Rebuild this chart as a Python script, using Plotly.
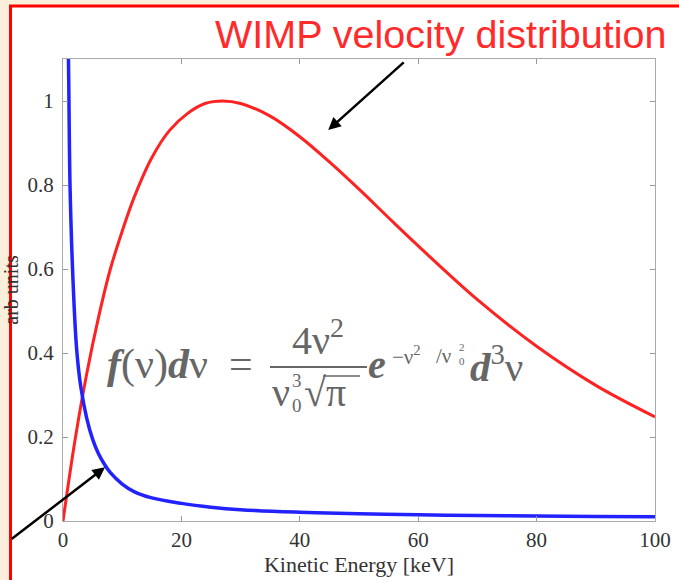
import plotly.graph_objects as go

# ---- data ----
energy_red = [0, 2, 4, 6, 8, 10, 12, 15, 18, 21, 24, 27, 30, 35, 40, 45, 50, 55, 60, 70, 80, 90, 100]
wimp_vel = [0, 0.19, 0.35, 0.485, 0.60, 0.69, 0.77, 0.865, 0.93, 0.97, 0.994, 1.0, 0.994, 0.964, 0.915,
            0.855, 0.79, 0.722, 0.655, 0.527, 0.416, 0.323, 0.248]

energy_blue = [0.5, 0.8, 1.2, 1.7, 2.3, 3.0, 4.0, 5.0, 6.0, 7.0, 8.0, 10, 12, 15, 20, 25, 30, 40,
               50, 60, 70, 80, 90, 100]
other_curve = [1.25, 1.18, 0.79, 0.57, 0.41, 0.32, 0.245, 0.195, 0.16, 0.135, 0.115, 0.088, 0.07,
               0.055, 0.042, 0.033, 0.027, 0.021, 0.017, 0.015, 0.013, 0.012, 0.011, 0.010]

x_ticks = [0, 20, 40, 60, 80, 100]
y_ticks = [0, 0.2, 0.4, 0.6, 0.8, 1.0]
y_ticktext = ["0", "0.2", "0.4", "0.6", "0.8", "1"]

W, H = 679, 580
L, R, T, B = 63, 24, 59, 59
PW, PH = W - L - R, H - T - B

SERIF = "Liberation Serif, Times New Roman, serif"
GRAY = "#666666"


def px(x, y):
    return (x - L) / PW, 1 - (y - T) / PH


fig = go.Figure()
fig.add_trace(go.Scatter(x=energy_red, y=wimp_vel, mode="lines", line=dict(color="#ff2222", width=3),
                         line_shape="spline", showlegend=False))
fig.add_trace(go.Scatter(x=energy_blue, y=other_curve, mode="lines", line=dict(color="#2222ff", width=3.5),
                         line_shape="spline", showlegend=False))

shapes = []
# white inner page with red frame
x0, y1 = px(10.5, 6)
x1, y0 = px(720, 600)
shapes.append(dict(type="rect", xref="paper", yref="paper", x0=x0, x1=x1, y0=y0, y1=y1,
                   fillcolor="white", line=dict(color="#ff0000", width=3), layer="below"))
# fraction bar
fx0, fy = px(270, 367)
fx1, _ = px(367, 367)
shapes.append(dict(type="line", xref="paper", yref="paper", x0=fx0, x1=fx1, y0=fy, y1=fy,
                   line=dict(color=GRAY, width=2)))
# overline of sqrt
ox0, oy = px(323, 376)
ox1, _ = px(360, 376)
shapes.append(dict(type="line", xref="paper", yref="paper", x0=ox0, x1=ox1, y0=oy, y1=oy,
                   line=dict(color=GRAY, width=1.5)))

annotations = []


def ann(text, x, y, size, xanchor="left", color=GRAY, family=SERIF):
    ax_, ay_ = px(x, y)
    annotations.append(dict(text=text, x=ax_, y=ay_, xref="paper", yref="paper", xanchor=xanchor,
                            yanchor="middle", showarrow=False, borderpad=0,
                            font=dict(size=size, color=color, family=family)))


# title
ann("WIMP velocity distribution", 667, 34, 39.5, xanchor="right", color="#ff2a2a",
    family="Liberation Sans, Arial, sans-serif")

# formula
ann("<b><i>f</i></b>(ν)<b><i>d</i></b>ν  =", 106, 364, 42)
ann("4ν<sup>2</sup>", 318, 337, 40, xanchor="center")
ann("ν", 281, 392, 40, xanchor="center")
ann("3", 297, 380, 19, xanchor="center")
ann("0", 297, 405, 19, xanchor="center")
ann("√π", 303, 392, 40)
ann("<b><i>e</i></b>", 367, 364, 40)
ann("−ν<sup>2</sup>", 391, 355, 21)
ann("/ν", 435, 356, 21)
ann("2", 462, 347, 11, xanchor="center")
ann("0", 462, 361, 11, xanchor="center")
ann("<b><i>d</i></b><sup>3</sup>ν", 469, 364, 41)

# arrows
annotations.append(dict(x=44.8, y=0.931, xref="x", yref="y", text="", showarrow=True,
                        ax=77, ay=-69, arrowhead=2, arrowsize=1, arrowwidth=2.5, arrowcolor="black"))
annotations.append(dict(x=7.1, y=0.128, xref="x", yref="y", text="", showarrow=True,
                        ax=-95, ay=73, arrowhead=2, arrowsize=1, arrowwidth=2.5, arrowcolor="black"))

axis_common = dict(showline=True, linecolor="#aaaaaa", linewidth=1, mirror="ticks", ticks="inside",
                   ticklen=5, tickcolor="#999999", showgrid=False, zeroline=False, automargin=False,
                   tickfont=dict(family=SERIF, size=21, color="#333333"))

fig.update_layout(
    width=W, height=H, autosize=False,
    margin=dict(l=L, r=R, t=T, b=B, pad=0),
    paper_bgcolor="#faefdb", plot_bgcolor="white",
    xaxis=dict(range=[0, 100], tickvals=x_ticks, ticktext=[str(v) for v in x_ticks],
               title=dict(text="Kinetic Energy [keV]", font=dict(family=SERIF, size=22, color="#333333"),
                          standoff=0), **axis_common),
    yaxis=dict(range=[0, 1.1], tickvals=y_ticks, ticktext=y_ticktext, ticklabelstandoff=4,
               title=dict(text="arb units", font=dict(family=SERIF, size=20, color="#333333"),
                          standoff=6), **axis_common),
    shapes=shapes, annotations=annotations,
)

fig.write_html("out.html")
